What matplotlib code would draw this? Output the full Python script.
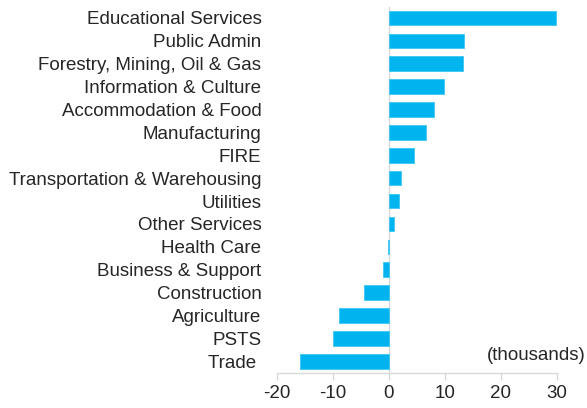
import matplotlib
matplotlib.use("Agg")
import matplotlib.pyplot as plt

categories = ["Educational Services", "Public Admin", "Forestry, Mining, Oil & Gas",
              "Information & Culture", "Accommodation & Food", "Manufacturing", "FIRE",
              "Transportation & Warehousing", "Utilities", "Other Services", "Health Care",
              "Business & Support", "Construction", "Agriculture", "PSTS", "Trade "]
values = [29.8, 13.5, 13.3, 9.9, 8.0, 6.6, 4.6, 2.2, 1.9, 0.95, -0.2, -0.95, -4.4, -8.8, -10.0, -15.9]
xticks = [-20, -10, 0, 10, 20, 30]

plt.rcParams['font.family'] = ['Liberation Sans', 'DejaVu Sans']
fig = plt.figure(figsize=(5.87, 4.08), dpi=100)
ax = fig.add_axes([0.4714, 0.0865, 0.4770, 0.8975])

y = list(range(len(categories)))[::-1]
ax.barh(y, values, height=0.64, color='#00B5EF', edgecolor='#3CC6F3', linewidth=0.6, zorder=2)
ax.set_ylim(-0.5, len(categories) - 0.5)
ax.set_xlim(-20, 30)
ax.axvline(0, color='#D9D9D9', linewidth=1.0, zorder=1)

ax.set_yticks(y)
ax.set_yticklabels(categories, fontsize=13.5, color='#262626')
ax.set_xticks(xticks)
ax.set_xticklabels([str(t) for t in xticks], fontsize=13.5, color='#262626')
ax.tick_params(axis='y', length=0, pad=11)
ax.tick_params(axis='x', length=5, color='#D9D9D9', width=1.0, pad=4)
for s in ['top', 'right', 'left']:
    ax.spines[s].set_visible(False)
ax.spines['bottom'].set_color('#D9D9D9')
ax.spines['bottom'].set_linewidth(1.0)

fig.text(0.997, 0.128, "(thousands)", ha='right', va='center', fontsize=13.5, color='#262626')

fig.savefig("out.png", dpi=100)
